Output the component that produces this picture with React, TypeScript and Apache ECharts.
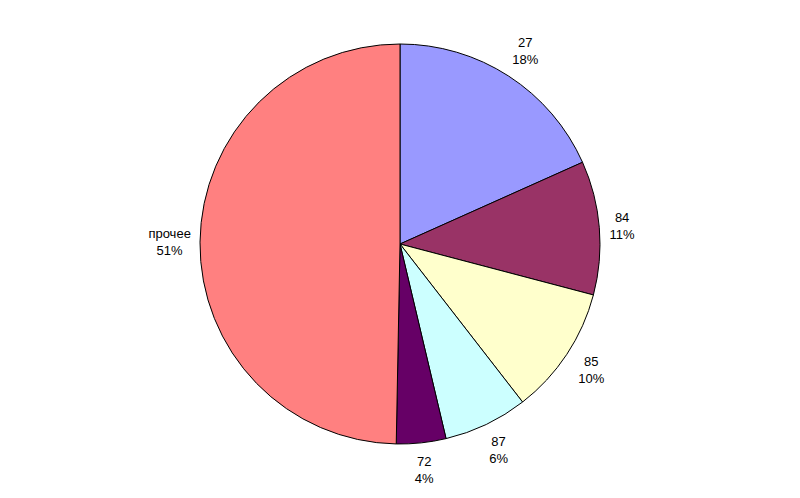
import React, { useEffect, useRef } from "react";
import * as echarts from "echarts";

const categories = ["27", "84", "85", "87", "72", "прочее"];
const values = [18.3, 10.8, 10.4, 6.8, 4.0, 49.7];
const percentLabels = ["18%", "11%", "10%", "6%", "4%", "51%"];
const colors = ["#9999FF", "#993366", "#FFFFCC", "#CCFFFF", "#660066", "#FF8080"];

const CX = 400;
const CY = 244;
const R = 200;
const GAP = 9;

export default function App() {
  const ref = useRef<HTMLDivElement>(null);
  useEffect(() => {
    if (!ref.current) return;
    const chart = echarts.init(ref.current, undefined, { renderer: "svg" });
    const total = values.reduce((a, b) => a + b, 0);
    const mids: number[] = [];
    let cum = 0;
    values.forEach((v) => {
      mids.push(((cum + v / 2) / total) * Math.PI * 2);
      cum += v;
    });
    chart.setOption({
      animation: false,
      backgroundColor: "#ffffff",
      series: [
        {
          type: "pie",
          center: [CX, CY],
          radius: R,
          startAngle: 90,
          clockwise: true,
          avoidLabelOverlap: false,
          data: categories.map((c, i) => ({
            name: c,
            value: values[i],
            itemStyle: { color: colors[i] },
          })),
          itemStyle: { borderColor: "#000000", borderWidth: 1 },
          emphasis: { disabled: true },
          label: {
            show: true,
            position: "outside",
            formatter: (p: any) => `${p.name}\n${percentLabels[p.dataIndex]}`,
            fontFamily: "Liberation Sans, Arial, sans-serif",
            fontSize: 13,
            lineHeight: 17,
            color: "#000000",
            align: "center",
          },
          labelLine: { show: false },
          labelLayout: (params: any) => {
            const a = mids[params.dataIndex];
            const dx = Math.sin(a);
            const dy = -Math.cos(a);
            const w = params.labelRect.width;
            const h = params.labelRect.height;
            const t = (w / 2) * Math.abs(dx) + (h / 2) * Math.abs(dy);
            const d = R + GAP + t;
            return {
              x: CX + dx * d,
              y: CY + dy * d,
              align: "center",
              verticalAlign: "middle",
            };
          },
        },
      ],
    });
    return () => chart.dispose();
  }, []);
  return (
    <div
      ref={ref}
      style={{ position: "fixed", left: 0, top: 0, width: 800, height: 498, background: "#fff" }}
    />
  );
}
